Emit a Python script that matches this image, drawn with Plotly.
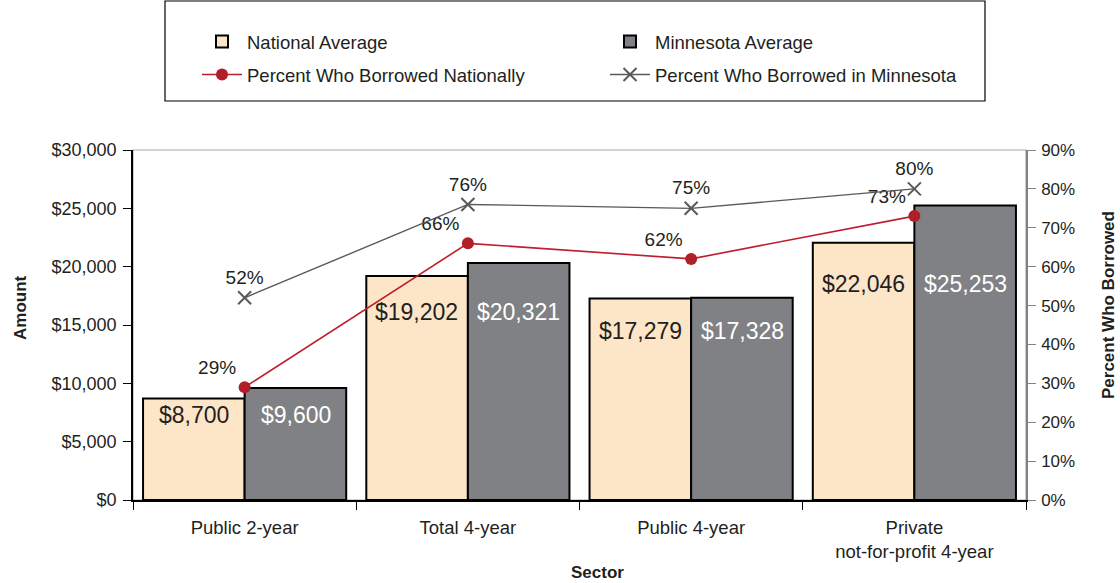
import plotly.graph_objects as go

sectors = ["Public 2-year", "Total 4-year", "Public 4-year", "Private<br>not-for-profit 4-year"]
national_avg = [8700, 19202, 17279, 22046]
minnesota_avg = [9600, 20321, 17328, 25253]
pct_national = [0.29, 0.66, 0.62, 0.73]
pct_minnesota = [0.52, 0.76, 0.75, 0.80]

FONT = "Liberation Sans, Arial, sans-serif"
PEACH = "#FDE5C8"
GRAY_BAR = "#808184"
RED = "#BE1E2D"
GRAY_LINE = "#58595B"
TXT = "#231F20"

# plot area: x 133..1026, y 150..500 in a 1120x583 page (body margin removed)
PW, PH = 893, 350
L, T = 133, 150
W, H = 1120, 583

fig = go.Figure()
fig.add_trace(go.Bar(x=sectors, y=national_avg, name="National Average", legend="legend",
                     marker=dict(color=PEACH, line=dict(color="black", width=2))))
fig.add_trace(go.Bar(x=sectors, y=minnesota_avg, name="Minnesota Average", legend="legend",
                     marker=dict(color=GRAY_BAR, line=dict(color="black", width=2))))
fig.add_trace(go.Scatter(x=sectors, y=pct_national, yaxis="y2", name="Percent Who Borrowed Nationally",
                         legend="legend2", mode="lines+markers+text",
                         text=[f"{round(v*100)}%" for v in pct_national],
                         textposition="top left", textfont=dict(size=19, color=TXT),
                         line=dict(color=RED, width=1.6),
                         marker=dict(symbol="circle", size=12, color="#B01E2A")))
fig.add_trace(go.Scatter(x=sectors, y=pct_minnesota, yaxis="y2", name="Percent Who Borrowed in Minnesota",
                         legend="legend2", mode="lines+markers+text",
                         text=[f"{round(v*100)}%" for v in pct_minnesota],
                         textposition="top center", textfont=dict(size=19, color=TXT),
                         line=dict(color=GRAY_LINE, width=1.4),
                         marker=dict(symbol="x-thin", size=13, line=dict(color=GRAY_LINE, width=2))))

# bar value labels inside the bars
for cat, nv, mv in zip(sectors, national_avg, minnesota_avg):
    ly = 0.84 * min(nv, mv)
    fig.add_annotation(x=cat, y=ly, text=f"${nv:,}", showarrow=False, xshift=-51,
                       font=dict(size=23, color=TXT, family=FONT))
    fig.add_annotation(x=cat, y=ly, text=f"${mv:,}", showarrow=False, xshift=51,
                       font=dict(size=23, color="white", family=FONT))

# axis titles
fig.add_annotation(xref="paper", yref="paper", x=(20 - L) / PW, y=(500 - 308) / PH,
                   xanchor="center", yanchor="middle",
                   text="<b>Amount</b>", textangle=-90, showarrow=False,
                   font=dict(size=17, color=TXT))
fig.add_annotation(xref="paper", yref="paper", x=(1108 - L) / PW, y=(500 - 305) / PH,
                   xanchor="center", yanchor="middle",
                   text="<b>Percent Who Borrowed</b>", textangle=-90, showarrow=False,
                   font=dict(size=17, color=TXT))
fig.add_annotation(xref="paper", yref="paper", x=(597 - L) / PW, y=(500 - 572) / PH,
                   xanchor="center", yanchor="middle",
                   text="<b>Sector</b>", showarrow=False, font=dict(size=17, color=TXT))

# legend frame
fig.add_shape(type="rect", xref="paper", yref="paper",
              x0=(165 - L) / PW, x1=(985 - L) / PW,
              y0=1 + (150 - 101) / PH, y1=1 + (150 - 1) / PH,
              line=dict(color="black", width=1.2), fillcolor="rgba(0,0,0,0)")
# plot frame
fig.add_shape(type="rect", xref="paper", yref="paper", x0=0, x1=1, y0=0, y1=1,
              line=dict(color="#A7A9AC", width=1.2), layer="below")

leg_common = dict(orientation="h", x=(197 - L) / PW, xanchor="left", yanchor="middle",
                  entrywidth=408 / PW, entrywidthmode="fraction",
                  font=dict(size=18.5, color=TXT), bgcolor="rgba(0,0,0,0)", itemwidth=40,
                  traceorder="normal")

fig.update_layout(
    width=W, height=H,
    margin=dict(l=L, r=W - L - PW, t=T, b=H - T - PH, autoexpand=False),
    paper_bgcolor="white", plot_bgcolor="white",
    font=dict(family=FONT, size=18, color=TXT),
    barmode="group", bargap=0.09, bargroupgap=0,
    showlegend=True,
    legend=dict(y=1 + (150 - 42) / PH, **leg_common),
    legend2=dict(y=1 + (150 - 75) / PH, **leg_common),
    xaxis=dict(showline=True, linecolor="black", linewidth=1.5,
               ticks="outside", tickson="boundaries", ticklen=8, tickcolor="black",
               ticklabelstandoff=10,
               showgrid=False, tickfont=dict(size=18.5)),
    yaxis=dict(range=[0, 30000], dtick=5000, tickprefix="$", tickformat=",",
               showline=True, linecolor="black", linewidth=1.5,
               ticks="outside", ticklen=8, tickcolor="black", ticklabelstandoff=3,
               showgrid=False, zeroline=False, tickfont=dict(size=18)),
    yaxis2=dict(overlaying="y", side="right", range=[0, 0.9], dtick=0.1, tickformat=".0%",
                showline=True, linecolor="#808285", linewidth=1.5,
                ticks="outside", ticklen=8, tickcolor="#808285", ticklabelstandoff=2,
                showgrid=False, zeroline=False, tickfont=dict(size=17)),
)

fig.write_html("out.html", config={"displayModeBar": False},
               post_script="document.body.style.margin='0px';document.body.style.overflow='hidden';")
